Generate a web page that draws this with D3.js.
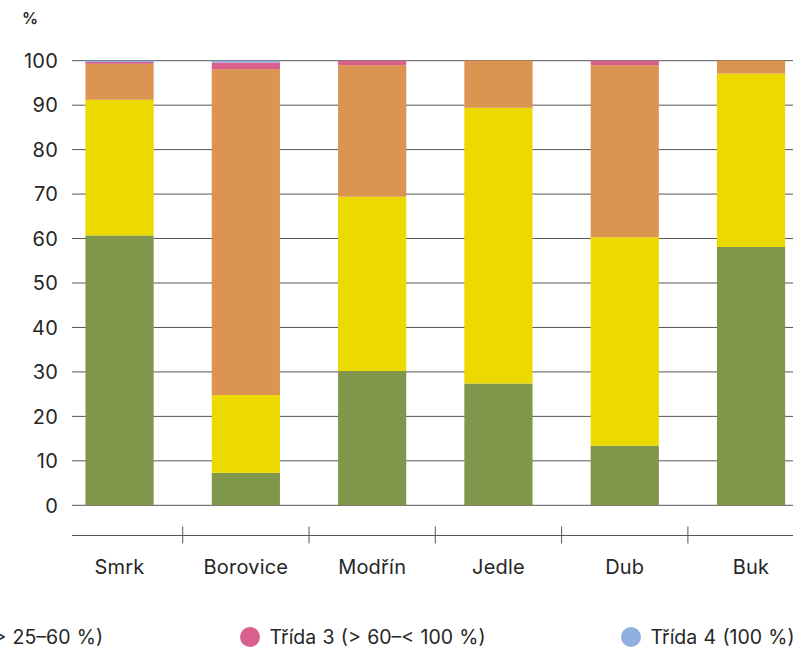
<!DOCTYPE html>
<html>
<head>
<meta charset="utf-8">
<script src="https://cdn.jsdelivr.net/npm/d3@7/dist/d3.min.js"></script>
<style>
  html, body { margin: 0; padding: 0; background: #fff; }
  svg { display: block; }
  text { font-family: Inter, Roboto, "DejaVu Sans", sans-serif; fill: #262626; }
</style>
</head>
<body>
<svg id="chart" width="793" height="652"></svg>
<script>
// ---- data ----
const categories = ["Smrk", "Borovice", "Modřín", "Jedle", "Dub", "Buk"];
const seriesNames = ["Třída 0 (0–10 %)", "Třída 1 (> 10–25 %)", "Třída 2 (> 25–60 %)", "Třída 3 (> 60–< 100 %)", "Třída 4 (100 %)"];
const trida0 = [60.7, 7.3, 30.2, 27.4, 13.4, 58.1];
const trida1 = [30.5, 17.5, 39.2, 62.0, 46.9, 39.0];
const trida2 = [8.1, 73.3, 29.6, 10.6, 38.7, 2.9];
const trida3 = [0.4, 1.5, 1.0, 0.0, 1.0, 0.0];
const trida4 = [0.3, 0.4, 0.0, 0.0, 0.0, 0.0];
const yTicks = [0, 10, 20, 30, 40, 50, 60, 70, 80, 90, 100];
const colors = ["#80964a", "#ecd900", "#db9551", "#d9608c", "#8fb0de"];

const seriesValues = [trida0, trida1, trida2, trida3, trida4];
const keys = ["t0", "t1", "t2", "t3", "t4"];
const table = categories.map((c, i) => {
  const row = { cat: c };
  keys.forEach((k, j) => row[k] = seriesValues[j][i]);
  return row;
});

const svg = d3.select("#chart");
const FS = 20, LS = 0.2;

const y = d3.scaleLinear().domain([0, 100]).range([505.3, 60.7]);
const x = d3.scaleBand().domain(categories).range([56.4, 814.2]).paddingInner(0.46).paddingOuter(0.23);
const color = d3.scaleOrdinal().domain(keys).range(colors);

// gridlines
svg.append("g").selectAll("line").data(yTicks).join("line")
  .attr("x1", 72).attr("x2", 793)
  .attr("y1", d => y(d)).attr("y2", d => y(d))
  .attr("stroke", "#555").attr("stroke-width", 1);

// y labels
svg.append("g").selectAll("text").data(yTicks).join("text")
  .attr("x", 58).attr("y", d => y(d)).attr("dy", "0.36em")
  .attr("text-anchor", "end").attr("font-size", FS).attr("letter-spacing", LS)
  .text(d => d);

// unit label
svg.append("text").attr("x", 22).attr("y", 23.5)
  .attr("font-size", 16).attr("font-weight", 600).text("%");

// stacked bars
const stacked = d3.stack().keys(keys)(table);
svg.append("g").selectAll("g").data(stacked).join("g")
  .attr("fill", d => color(d.key))
  .selectAll("rect").data(d => d).join("rect")
  .attr("x", d => x(d.data.cat))
  .attr("width", x.bandwidth())
  .attr("y", d => y(d[1]))
  .attr("height", d => Math.max(0, y(d[0]) - y(d[1])));

// category axis
const axisY = 535.5;
svg.append("line").attr("x1", 72).attr("x2", 793).attr("y1", axisY).attr("y2", axisY)
  .attr("stroke", "#555").attr("stroke-width", 1);
const seps = categories.slice(1).map(c => x(c) - x.step() * x.paddingInner() / 2);
svg.append("g").selectAll("line").data(seps).join("line")
  .attr("x1", d => d).attr("x2", d => d)
  .attr("y1", axisY - 9).attr("y2", axisY + 8)
  .attr("stroke", "#555").attr("stroke-width", 1);
svg.append("g").selectAll("text").data(categories).join("text")
  .attr("x", d => x(d) + x.bandwidth() / 2).attr("y", 574)
  .attr("text-anchor", "middle").attr("font-size", FS).attr("letter-spacing", LS)
  .text(d => d);

// legend: wider than the page, so it is cut at the left edge
const lg = svg.append("g").selectAll("g").data(seriesNames).join("g");
lg.append("circle").attr("r", 10).attr("fill", (d, i) => colors[i]);
lg.append("text").attr("x", 19.5).attr("dy", "0.36em").attr("font-size", 19.5)
  .attr("word-spacing", 0.8).text(d => d);
const widths = [];
lg.each(function(d, i) { widths[i] = d3.select(this).select("text").node().getComputedTextLength(); });
const n = seriesNames.length;
const pos = new Array(n);
pos[n - 1] = 631;
pos[n - 2] = 250;
for (let i = n - 3; i >= 0; i--) pos[i] = pos[i + 1] - 147 - 19.5 - widths[i];
lg.attr("transform", (d, i) => `translate(${pos[i]},637)`);
</script>
</body>
</html>
